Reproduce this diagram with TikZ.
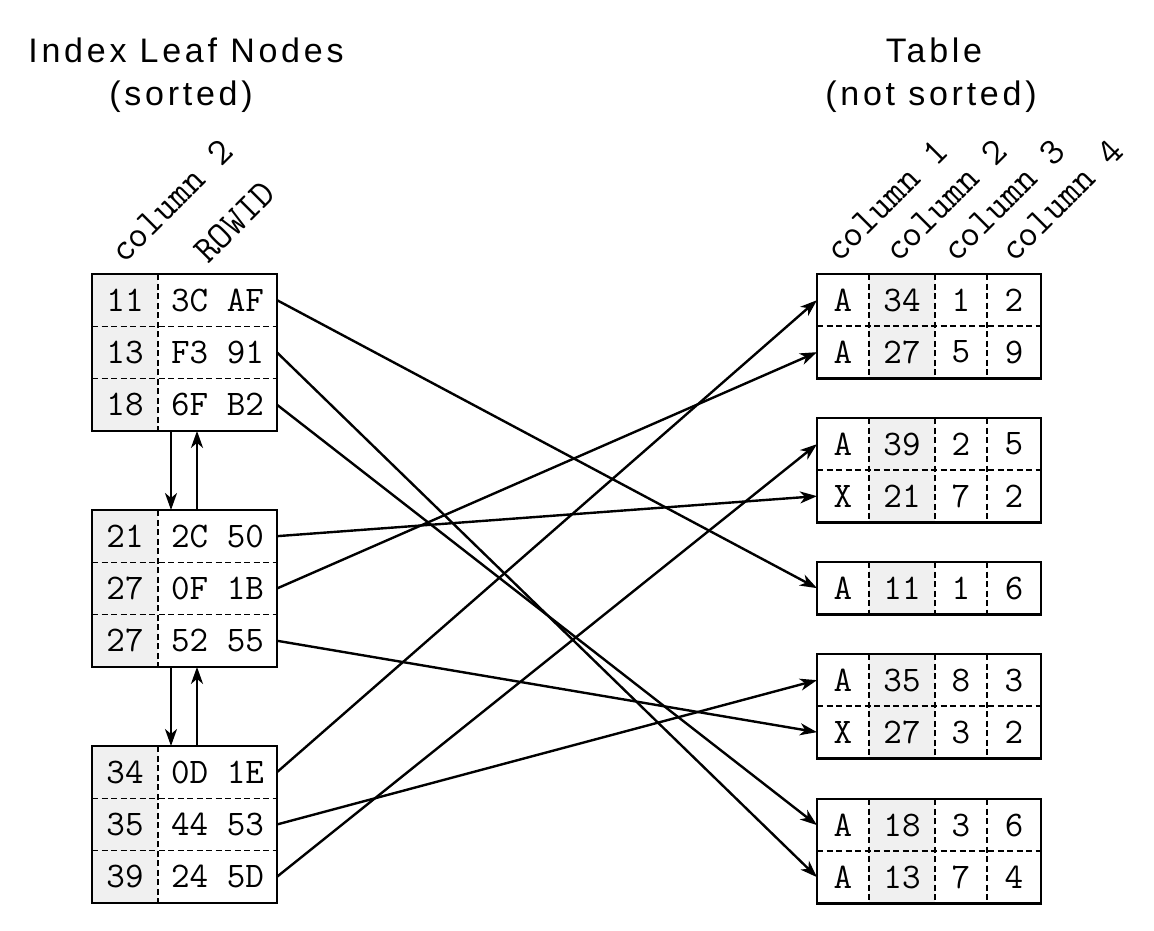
\documentclass[tikz,border=0pt]{standalone}
\usepackage{fontspec}
\setmainfont{Liberation Sans}
\usetikzlibrary{arrows.meta}
\definecolor{keygray}{HTML}{F0F0F0}
\tikzset{
  cell/.style={inner sep=0pt, outer sep=0pt, minimum height=52.3pt, font=\fontsize{36}{40}\selectfont\ttfamily},
  lkey/.style={cell, minimum width=66pt, fill=keygray},
  lrid/.style={cell, minimum width=119pt},
  rc1/.style={cell, minimum width=52pt},
  rc2/.style={cell, minimum width=66pt, fill=keygray},
  rc3/.style={cell, minimum width=52pt},
  rc4/.style={cell, minimum width=54pt},
  boxline/.style={line width=2.4pt},
  rowsep/.style={line width=1.4pt, dash pattern=on 6pt off 3.5pt},
  colsep/.style={line width=2.6pt, dash pattern=on 6pt off 3.5pt},
  arr/.style={line width=2.4pt, -{Stealth[length=17pt, width=12pt, inset=5pt]}},
  title/.style={font=\fontsize{34}{40}\selectfont\addfontfeature{LetterSpace=11}, anchor=base, inner sep=0pt},
  hdr/.style={font=\fontsize{38}{42}\selectfont\ttfamily, rotate=45, anchor=base west, inner sep=0pt},
}
\newcommand\lrow[4]{%
  \node[lkey, anchor=north west] (#1k) at (92,#2) {#3};
  \node[lrid, anchor=west] (#1) at (#1k.east) {#4};}
\newcommand\rrow[6]{%
  \node[rc1, anchor=north west] (#1) at (817,#2) {#3};
  \node[rc2, anchor=west] (#1b) at (#1.east) {#4};
  \node[rc3, anchor=west] (#1c) at (#1b.east) {#5};
  \node[rc4, anchor=west] (#1d) at (#1c.east) {#6};}
\begin{document}
\begin{tikzpicture}[x=1pt,y=-1pt]
\useasboundingbox (0,0) rectangle (1154,930);
% titles
\node[title] (t1) at (186,62) {Index Leaf Nodes};
\node[title] (t2) at (181,105) {(sorted)};
\node[title] (t3) at (934,62) {Table};
\node[title] (t4) at (931,105) {(not sorted)};
% headers
\node[hdr] (h1) at (124,265) {column 2};
\node[hdr] (h2) at (208,265) {ROWID};
\node[hdr] (h3) at (839,264) {column 1};
\node[hdr] (h4) at (898,264) {column 2};
\node[hdr] (h5) at (956,264) {column 3};
\node[hdr] (h6) at (1014,264) {column 4};
% left boxes
\lrow{L11}{274}{11}{3C AF}
\lrow{L13}{326.3}{13}{F3 91}
\lrow{L18}{378.6}{18}{6F B2}
\lrow{L21}{510}{21}{2C 50}
\lrow{L27a}{562.3}{27}{0F 1B}
\lrow{L27b}{614.6}{27}{52 55}
\lrow{L34}{746}{34}{0D 1E}
\lrow{L35}{798.3}{35}{44 53}
\lrow{L39}{850.6}{39}{24 5D}
% right boxes
\rrow{R34}{274}{A}{34}{1}{2}
\rrow{R27a}{326}{A}{27}{5}{9}
\rrow{R39}{418}{A}{39}{2}{5}
\rrow{R21}{470}{X}{21}{7}{2}
\rrow{R11}{562}{A}{11}{1}{6}
\rrow{R35}{654}{A}{35}{8}{3}
\rrow{R27b}{706}{X}{27}{3}{2}
\rrow{R18}{799}{A}{18}{3}{6}
\rrow{R13}{851}{A}{13}{7}{4}
% left box separators
\foreach \a/\b/\c in {L11/L13/L18, L21/L27a/L27b, L34/L35/L39}{
  \draw[rowsep] (\b k.north west) -- (\b.north east);
  \draw[rowsep] (\c k.north west) -- (\c.north east);
  \draw[colsep] (\a k.north east) -- (\c k.south east);
  \draw[boxline] (\a k.north west) rectangle (\c.south east);
}
% right box separators
\foreach \a/\c in {R34/R27a, R39/R21, R11/R11, R35/R27b, R18/R13}{
  \draw[rowsep] (\c.north west) -- (\c d.north east);
  \draw[colsep] (\a.north east) -- (\c.south east);
  \draw[colsep] (\a b.north east) -- (\c b.south east);
  \draw[colsep] (\a c.north east) -- (\c c.south east);
  \draw[boxline] (\a.north west) rectangle (\c d.south east);
}
\draw[boxline] (R11.north west) -- (R11d.north east);
% links between leaf nodes
\draw[arr] ([xshift=13pt]L18k.south east) -- ([xshift=13pt]L18k.south east |- L21k.north);
\draw[arr] ([xshift=39pt]L21k.north east) -- ([xshift=39pt]L21k.north east |- L18k.south);
\draw[arr] ([xshift=13pt]L27bk.south east) -- ([xshift=13pt]L27bk.south east |- L34k.north);
\draw[arr] ([xshift=39pt]L34k.north east) -- ([xshift=39pt]L34k.north east |- L27bk.south);
% row pointers
\draw[arr] (L11.east) -- (R11.west);
\draw[arr] (L13.east) -- (R13.west);
\draw[arr] (L18.east) -- (R18.west);
\draw[arr] (L21.east) -- (R21.west);
\draw[arr] (L27a.east) -- (R27a.west);
\draw[arr] (L27b.east) -- (R27b.west);
\draw[arr] (L34.east) -- (R34.west);
\draw[arr] (L35.east) -- (R35.west);
\draw[arr] (L39.east) -- (R39.west);
\end{tikzpicture}
\end{document}
